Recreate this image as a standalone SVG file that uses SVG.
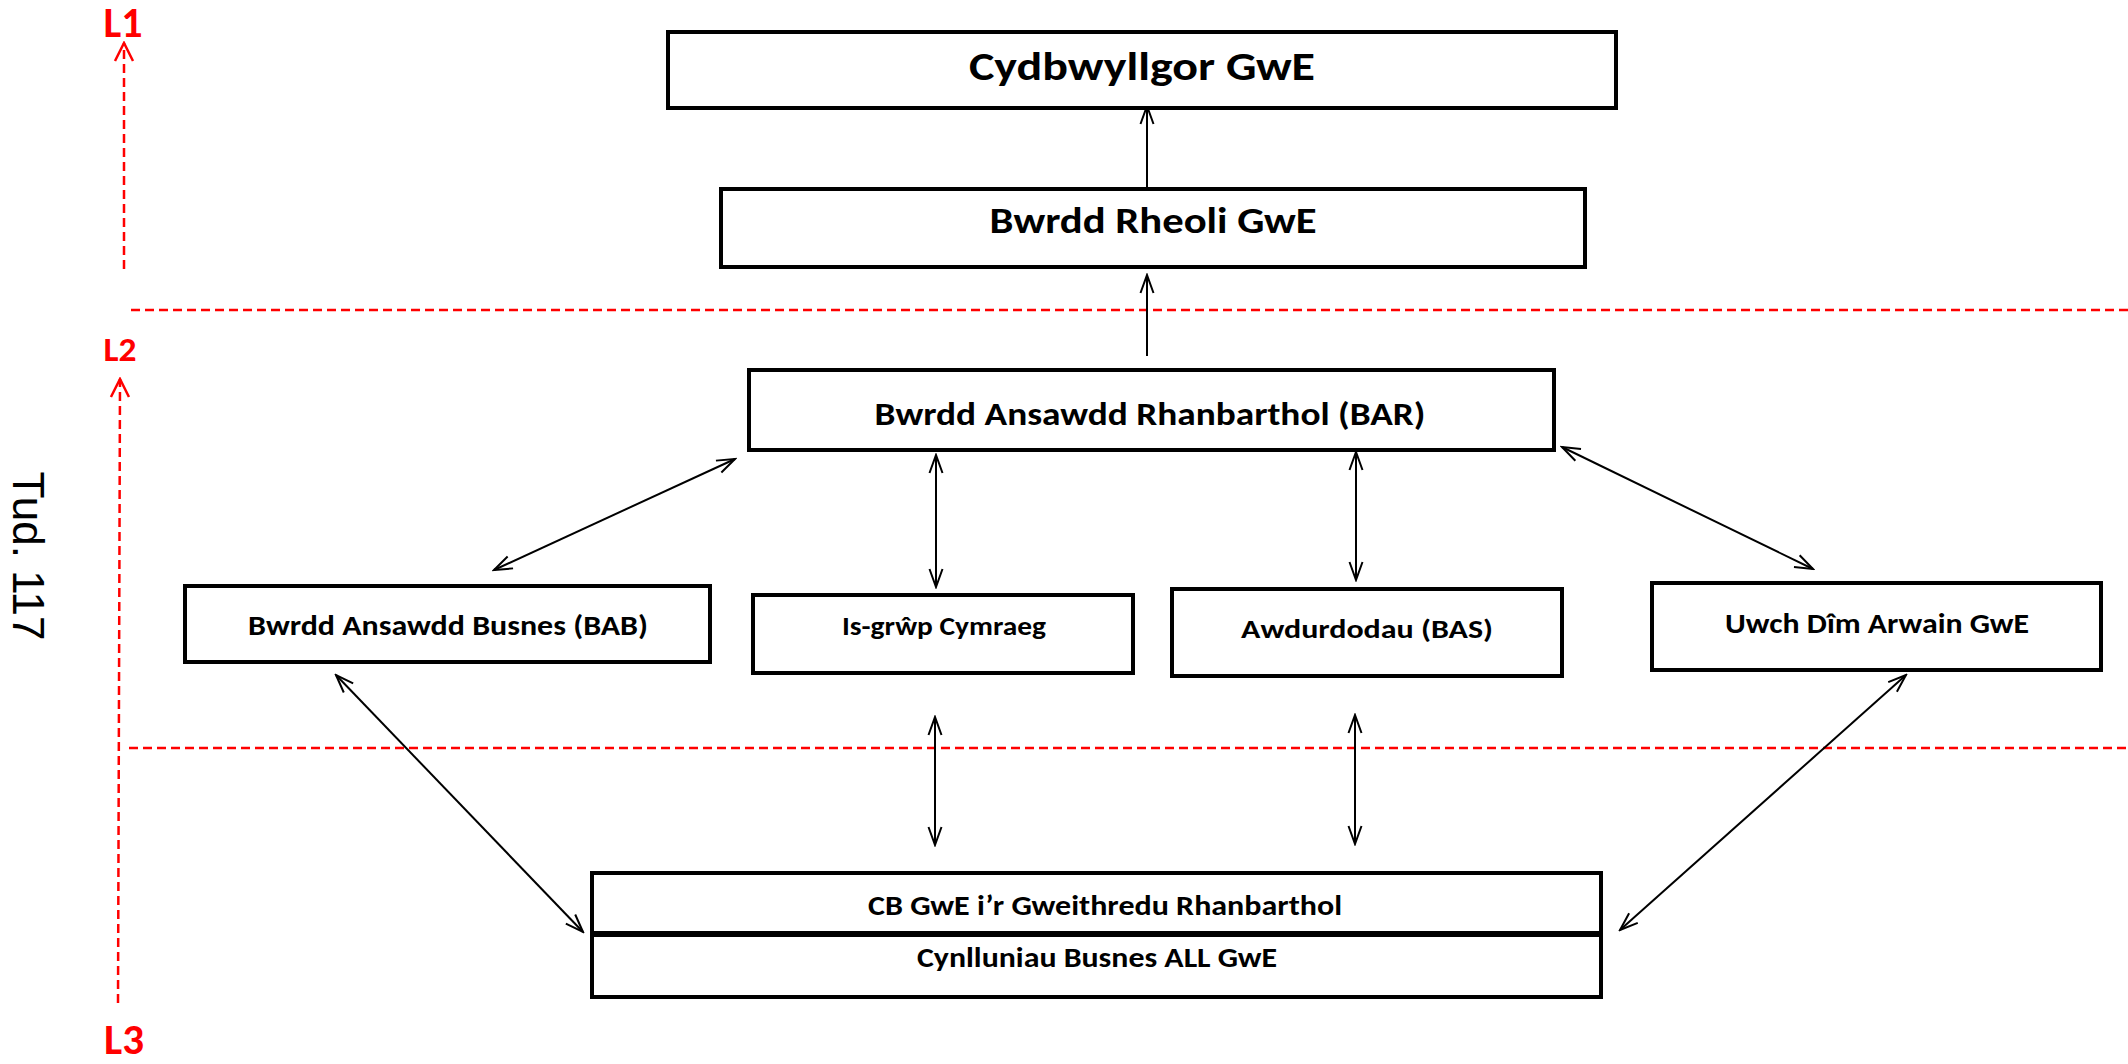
<svg xmlns="http://www.w3.org/2000/svg" width="2128" height="1064" viewBox="0 0 2128 1064">
<style>
.box{fill:#fff;stroke:#000;stroke-width:4}
.t{font-family:Carlito,Lato,'Open Sans',sans-serif;font-weight:bold;fill:#000;text-anchor:middle}
.lv{font-family:Carlito,Lato,'Open Sans',sans-serif;font-weight:bold;fill:#ff0000;text-anchor:middle}
.c{fill:none;stroke:#000;stroke-width:2}
.r{fill:none;stroke:#ff0000;stroke-width:2.5;stroke-dasharray:9 5}
</style>
<defs>
<marker id="ah" viewBox="-22 -10 24 20" refX="0" refY="0" markerWidth="24" markerHeight="20" orient="auto-start-reverse" markerUnits="userSpaceOnUse">
<path d="M-18,-6.5 L0,0 L-18,6.5" fill="none" stroke="#000" stroke-width="2"/>
</marker>
<marker id="rh" viewBox="-22 -12 24 24" refX="0" refY="0" markerWidth="24" markerHeight="24" orient="auto" markerUnits="userSpaceOnUse">
<path d="M-18,-9 L0,0 L-18,9" fill="none" stroke="#ff0000" stroke-width="2.5"/>
</marker>
</defs>
<rect width="2128" height="1064" fill="#fff"/>

<g id="levels">
<text class="lv" x="123" y="37" font-size="42" textLength="39" lengthAdjust="spacingAndGlyphs">L1</text>
<text class="lv" x="120" y="361" font-size="34" textLength="33" lengthAdjust="spacingAndGlyphs">L2</text>
<text class="lv" x="124" y="1054" font-size="42" textLength="40" lengthAdjust="spacingAndGlyphs">L3</text>
<line class="r" x1="124" y1="269" x2="124" y2="43" marker-end="url(#rh)"/>
<line class="r" x1="118" y1="1003" x2="120" y2="379" marker-end="url(#rh)"/>
<line class="r" x1="131" y1="310" x2="2128" y2="310"/>
<line class="r" x1="129" y1="748" x2="2128" y2="748"/>
<text x="0" y="0" transform="translate(13,556) rotate(90)" font-family="'Liberation Sans',Arial,sans-serif" font-size="44" text-anchor="middle" fill="#000">Tud. 117</text>
</g>

<g id="connectors">
<line class="c" x1="1147" y1="189" x2="1147" y2="106" marker-end="url(#ah)"/>
<line class="c" x1="1147" y1="356" x2="1147" y2="275" marker-end="url(#ah)"/>
<line class="c" x1="494" y1="570" x2="735" y2="459" marker-start="url(#ah)" marker-end="url(#ah)"/>
<line class="c" x1="936" y1="455" x2="936" y2="587" marker-start="url(#ah)" marker-end="url(#ah)"/>
<line class="c" x1="1356" y1="452" x2="1356" y2="580" marker-start="url(#ah)" marker-end="url(#ah)"/>
<line class="c" x1="1562" y1="447" x2="1813" y2="569" marker-start="url(#ah)" marker-end="url(#ah)"/>
<line class="c" x1="336" y1="675" x2="583" y2="932" marker-start="url(#ah)" marker-end="url(#ah)"/>
<line class="c" x1="935" y1="717" x2="935" y2="845" marker-start="url(#ah)" marker-end="url(#ah)"/>
<line class="c" x1="1355" y1="715" x2="1355" y2="844" marker-start="url(#ah)" marker-end="url(#ah)"/>
<line class="c" x1="1906" y1="675" x2="1620" y2="930" marker-start="url(#ah)" marker-end="url(#ah)"/>
</g>

<g id="cydbwyllgor">
<rect class="box" x="668" y="32" width="948" height="76"/>
<text class="t" x="1142" y="80" font-size="41" textLength="346" lengthAdjust="spacingAndGlyphs">Cydbwyllgor GwE</text>
</g>
<g id="bwrdd-rheoli">
<rect class="box" x="721" y="189" width="864" height="78"/>
<text class="t" x="1153" y="233" font-size="37" textLength="327" lengthAdjust="spacingAndGlyphs">Bwrdd Rheoli GwE</text>
</g>
<g id="bar">
<rect class="box" x="749" y="370" width="805" height="80"/>
<text class="t" x="1150" y="425" font-size="32.5" textLength="551" lengthAdjust="spacingAndGlyphs">Bwrdd Ansawdd Rhanbarthol (BAR)</text>
</g>
<g id="bab">
<rect class="box" x="185" y="586" width="525" height="76"/>
<text class="t" x="448" y="635" font-size="28" textLength="400" lengthAdjust="spacingAndGlyphs">Bwrdd Ansawdd Busnes (BAB)</text>
</g>
<g id="is-grwp">
<rect class="box" x="753" y="595" width="380" height="78"/>
<text class="t" x="944" y="635" font-size="26" textLength="204" lengthAdjust="spacingAndGlyphs">Is-grŵp Cymraeg</text>
</g>
<g id="awdurdodau">
<rect class="box" x="1172" y="589" width="390" height="87"/>
<text class="t" x="1367" y="638" font-size="27" textLength="252" lengthAdjust="spacingAndGlyphs">Awdurdodau (BAS)</text>
</g>
<g id="uwch">
<rect class="box" x="1652" y="583" width="449" height="87"/>
<text class="t" x="1877" y="633" font-size="28" textLength="304" lengthAdjust="spacingAndGlyphs">Uwch Dîm Arwain GwE</text>
</g>
<g id="cb">
<rect class="box" x="592" y="873" width="1009" height="60"/>
<text class="t" x="1105" y="915" font-size="27.5" textLength="474" lengthAdjust="spacingAndGlyphs">CB GwE i’r Gweithredu Rhanbarthol</text>
</g>
<g id="cynlluniau">
<rect class="box" x="592" y="935" width="1009" height="62"/>
<text class="t" x="1097" y="967" font-size="28" textLength="360" lengthAdjust="spacingAndGlyphs">Cynlluniau Busnes ALL GwE</text>
</g>
</svg>
